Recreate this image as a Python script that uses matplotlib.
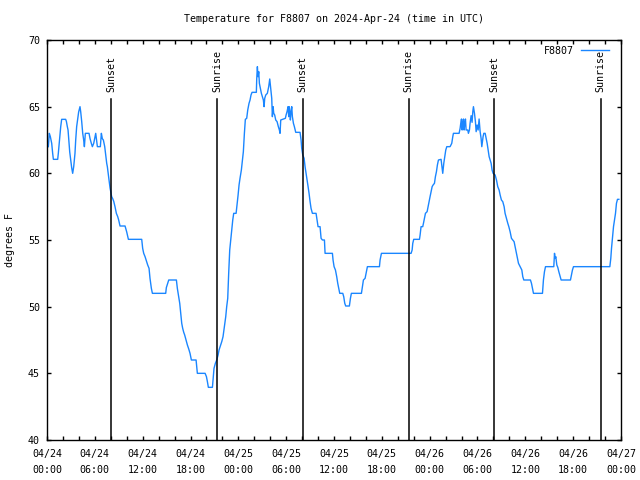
import matplotlib
matplotlib.use("Agg")
import matplotlib.pyplot as plt
from matplotlib.ticker import MultipleLocator

# hours since 2024-04-24 00:00 UTC and temperature (F)
hours = [
    0.17, 0.29, 0.42, 0.59, 0.71, 0.80, 1.34, 1.42, 1.51, 1.59, 1.72, 1.84,
    2.34, 2.43, 2.55, 2.64, 2.72, 2.85, 2.97, 3.10, 3.22, 3.35, 3.51, 3.60,
    3.72, 3.85, 3.97, 4.14, 4.23, 4.35, 4.48, 4.60, 4.69, 4.81, 5.27, 5.40,
    5.56, 5.69, 5.86, 5.98, 6.11, 6.32, 6.69, 6.82, 6.94, 7.07, 7.24, 7.36,
    7.49, 7.57, 7.65, 7.78, 7.91, 8.03, 8.11, 8.24, 8.37, 8.53, 8.70, 8.87,
    8.99, 9.16, 9.79, 10.00, 10.21, 11.88, 12.00, 12.13, 12.30, 12.46, 12.63,
    12.80, 12.92, 13.09, 13.22, 14.89, 14.97, 15.14, 15.27, 16.23, 16.35,
    16.52, 16.65, 16.77, 16.90, 17.02, 17.15, 17.27, 17.44, 17.61, 17.78,
    17.94, 18.11, 18.70, 18.86, 19.83, 20.00, 20.12, 20.24, 20.75, 20.83,
    20.95, 21.12, 21.29, 21.46, 21.58, 21.75, 21.92, 22.08, 22.25, 22.42,
    22.54, 22.67, 22.79, 22.92, 23.05, 23.17, 23.30, 23.42, 23.72, 23.84,
    23.97, 24.09, 24.21, 24.38, 24.51, 24.63, 24.76, 24.88, 25.05, 25.18,
    25.34, 25.47, 25.59, 25.72, 26.26, 26.31, 26.39, 26.47, 26.56, 26.64,
    26.77, 26.89, 27.02, 27.14, 27.23, 27.31, 27.44, 27.64, 27.81, 27.94,
    28.06, 28.19, 28.27, 28.36, 28.44, 28.56, 28.69, 28.86, 29.02, 29.15,
    29.23, 29.32, 29.90, 29.99, 30.11, 30.24, 30.32, 30.40, 30.53, 30.61,
    30.70, 30.78, 30.91, 31.03, 31.20, 31.74, 31.87, 31.95, 32.08, 32.25,
    32.37, 32.50, 32.62, 32.75, 32.87, 33.00, 33.12, 33.29, 33.75, 33.88,
    34.00, 34.25, 34.38, 34.55, 34.80, 34.88, 35.80, 35.88, 36.01, 36.18,
    36.34, 36.47, 36.59, 36.72, 37.10, 37.22, 37.35, 37.47, 37.93, 38.06,
    38.18, 39.44, 39.56, 39.69, 39.90, 40.02, 40.19, 41.70, 41.78, 41.95,
    45.67, 45.80, 45.88, 46.00, 46.72, 46.80, 46.92, 47.13, 47.22, 47.34,
    47.47, 47.68, 47.80, 47.93, 48.05, 48.18, 48.31, 48.43, 48.60, 48.72,
    48.85, 48.97, 49.10, 49.43, 49.56, 49.64, 49.77, 49.89, 50.02, 50.15,
    50.56, 50.77, 50.90, 50.98, 51.69, 51.82, 51.90, 51.99, 52.07, 52.15,
    52.24, 52.32, 52.40, 52.49, 52.57, 52.78, 52.86, 52.99, 53.07, 53.20,
    53.32, 53.41, 53.49, 53.62, 53.74, 53.83, 53.95, 54.08, 54.20, 54.33,
    54.45, 54.54, 54.62, 54.70, 54.79, 54.96, 55.08, 55.21, 55.33, 55.46,
    55.58, 55.71, 55.83, 55.96, 56.21, 56.38, 56.54, 56.71, 56.84, 57.00,
    57.17, 57.34, 57.46, 57.63, 57.80, 57.93, 58.09, 58.26, 58.43, 58.59,
    58.72, 58.89, 59.01, 59.14, 59.35, 59.56, 59.68, 59.81, 60.64, 60.77,
    60.89, 61.02, 62.15, 62.27, 62.40, 62.53, 63.57, 63.66, 63.74, 63.82,
    63.95, 64.07, 64.20, 64.32, 64.49, 65.66, 65.79, 65.91, 66.04, 70.60,
    70.72, 70.81, 70.93, 71.06, 71.18, 71.31, 71.43, 71.56, 71.73,
]
temps = [
    62.0, 63.0, 62.75, 62.25, 61.5, 61.05, 61.05, 61.5, 62.1, 62.6, 63.5, 64.05,
    64.05, 63.9, 63.5, 63.25, 62.6, 61.6, 61.0, 60.4, 60.0, 60.5, 61.5, 62.5,
    63.5, 64.1, 64.6, 65.0, 64.6, 63.9, 63.0, 62.5, 62.0, 63.0, 63.0, 62.6,
    62.25, 62.0, 62.25, 62.6, 63.0, 62.0, 62.0, 63.0, 62.6, 62.5, 62.0, 61.4,
    60.75, 60.5, 60.1, 59.5, 58.9, 58.5, 58.25, 58.1, 57.9, 57.5, 57.0, 56.75,
    56.5, 56.05, 56.05, 55.6, 55.05, 55.05, 54.375, 54.0, 53.75, 53.45, 53.125,
    52.875, 52.125, 51.375, 51.0, 51.0, 51.43, 51.75, 52.0, 52.0, 51.375,
    50.75, 50.25, 49.5, 48.75, 48.375, 48.075, 47.875, 47.5, 47.125, 46.825,
    46.5, 46.0, 46.0, 45.0, 45.0, 44.75, 44.375, 43.95, 43.95, 44.5,
    45.375, 45.75, 46.0, 46.375, 46.75, 47.075, 47.375, 47.75, 48.5, 49.25,
    50.0, 50.625, 52.5, 54.25, 55.0, 55.75, 56.5, 57.0, 57.0, 57.625,
    58.375, 59.125, 59.625, 60.25, 61.0, 61.625, 63.0, 64.05, 64.125, 64.75,
    65.25, 65.5, 65.875, 66.075, 66.075, 67.125, 68.0, 67.25, 67.625, 66.75,
    66.375, 66.0, 65.75, 65.5, 65.0, 65.625, 65.875, 66.0, 66.5, 67.075,
    66.375, 65.625, 64.25, 65.0, 64.5, 64.375, 64.0, 63.875, 63.5, 63.25,
    63.0, 64.0, 64.125, 64.375, 64.625, 65.0, 64.25, 65.0, 64.0, 64.625,
    65.0, 64.25, 63.75, 63.5, 63.075, 63.075, 62.5, 61.875, 61.375, 61.125,
    60.5, 60.0, 59.5, 59.0, 58.5, 57.875, 57.375, 57.0, 57.0, 56.5,
    56.0, 56.0, 55.125, 55.0, 55.0, 54.0, 54.0, 53.5, 53.0, 52.75,
    52.25, 51.75, 51.375, 51.0, 51.0, 50.75, 50.25, 50.05, 50.05, 50.625,
    51.0, 51.0, 51.5, 52.0, 52.125, 52.5, 53.0, 53.0, 53.5, 54.0,
    54.0, 54.25, 54.75, 55.05, 55.05, 55.375, 56.0, 56.0, 56.25, 56.625,
    57.0, 57.125, 57.5, 57.875, 58.25, 58.625, 59.0, 59.125, 59.25, 59.75,
    60.125, 60.625, 61.0, 61.05, 60.375, 60.0, 60.75, 61.25, 61.75, 62.0,
    62.0, 62.25, 62.75, 63.0, 63.0, 63.375, 63.75, 64.075, 63.25, 63.75,
    64.075, 63.25, 63.75, 64.075, 63.25, 63.25, 63.0, 63.25, 63.75, 64.325,
    63.825, 64.625, 65.0, 64.5, 63.875, 63.125, 63.625, 63.25, 64.075, 63.125,
    62.625, 62.0, 62.375, 62.75, 63.0, 63.0, 62.625, 62.25, 61.75, 61.25,
    61.0, 60.75, 60.25, 60.0, 59.875, 59.5, 59.0, 58.75, 58.375, 58.0,
    57.875, 57.5, 57.0, 56.625, 56.25, 56.0, 55.625, 55.125, 55.0, 54.875,
    54.5, 54.0, 53.625, 53.25, 53.0, 52.75, 52.25, 52.0, 52.0, 51.75,
    51.375, 51.0, 51.0, 52.0, 52.625, 53.0, 53.0, 54.0, 53.625, 53.75,
    53.125, 52.95, 52.625, 52.375, 52.0, 52.0, 52.375, 52.75, 53.0, 53.0,
    53.625, 54.375, 55.125, 56.0, 56.5, 57.0, 57.75, 58.05, 58.05,
]

sun_hours = [8.07, 21.37, 32.06, 45.35, 56.12, 69.45]
sun_names = ["Sunset", "Sunrise", "Sunset", "Sunrise", "Sunset", "Sunrise"]

tick_hours = list(range(0, 73, 6))
tick_labels = ["04/24\n00:00", "04/24\n06:00", "04/24\n12:00", "04/24\n18:00",
               "04/25\n00:00", "04/25\n06:00", "04/25\n12:00", "04/25\n18:00",
               "04/26\n00:00", "04/26\n06:00", "04/26\n12:00", "04/26\n18:00",
               "04/27\n00:00"]

plt.rcParams['font.family'] = ['DejaVu Sans Mono']
fs = 7.2

fig = plt.figure(figsize=(6.4, 4.8), dpi=100)
ax = fig.add_axes([47 / 640, 40 / 480, 574 / 640, 400 / 480])

line, = ax.plot(hours, temps, color='#1a86ff', lw=1.0, label='F8807')

# sunrise / sunset markers
for h, name in zip(sun_hours, sun_names):
    ax.plot([h, h], [0, 0.8525], transform=ax.get_xaxis_transform(), color='black', lw=1.1)
    ax.text(h, 0.869, name, transform=ax.get_xaxis_transform(), rotation=90,
            ha='center', va='bottom', fontsize=fs)

ax.set_xlim(0, 72)
ax.set_ylim(40, 70)
ax.set_xticks(tick_hours)
ax.set_xticklabels(tick_labels)
ax.xaxis.set_minor_locator(MultipleLocator(2))
ax.yaxis.set_major_locator(MultipleLocator(5))
ax.tick_params(which='both', direction='in', top=True, right=True, labelsize=fs, width=1, length=3)
ax.tick_params(axis='x', pad=6.5)
ax.tick_params(axis='y', pad=5)
for lbl in ax.get_xticklabels():
    lbl.set_linespacing(1.7)
for s in ax.spines.values():
    s.set_linewidth(1.0)

ax.legend(handles=[line], loc='upper right', bbox_to_anchor=(0.979, 0.985), frameon=False,
          markerfirst=False, fontsize=fs, handlelength=2.8, handletextpad=0.7,
          borderaxespad=0, borderpad=0)

fig.text(333.5 / 640, 1 - 19 / 480, "Temperature for F8807 on 2024-Apr-24 (time in UTC)",
         ha='center', va='center', fontsize=fs)
fig.text(10 / 640, 0.5, "degrees F", rotation=90, ha='center', va='center', fontsize=fs)

fig.savefig("out.png", dpi=100)
